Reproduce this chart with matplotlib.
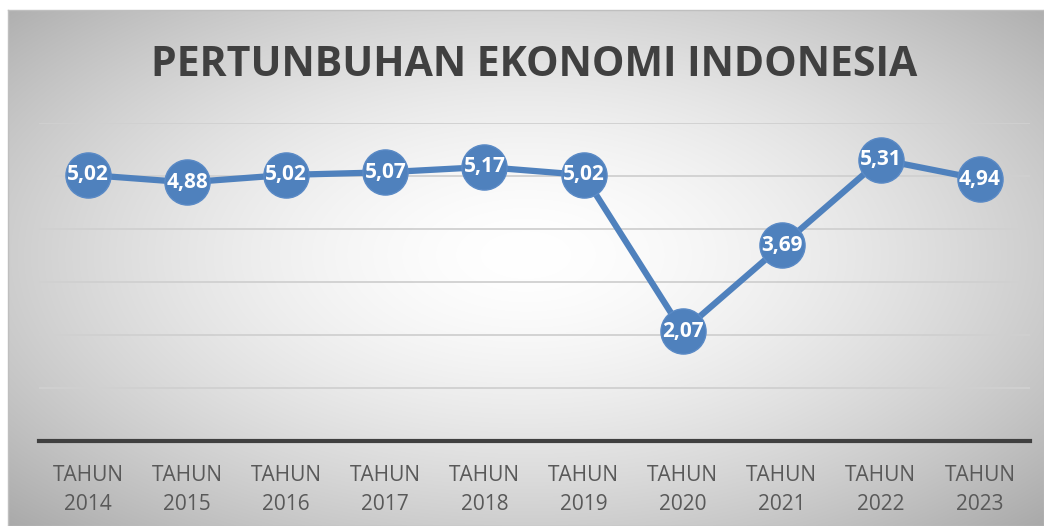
import matplotlib.pyplot as plt
import numpy as np

years = ["2014", "2015", "2016", "2017", "2018", "2019", "2020", "2021", "2022", "2023"]
growth = [5.02, 4.88, 5.02, 5.07, 5.17, 5.02, 2.07, 3.69, 5.31, 4.94]
tick_labels = ["TAHUN\n" + y for y in years]
value_labels = [f"{v:.2f}".replace(".", ",") for v in growth]

W, H = 1044, 526
fig = plt.figure(figsize=(W / 100, H / 100), dpi=100)
fig.patch.set_facecolor("white")

# chart area background: soft radial gradient
bg = fig.add_axes([8 / W, 0, 1 - 8 / W, (H - 10) / H])
yy, xx = np.mgrid[-1:1:300j, -1:1:600j]
r = np.sqrt((xx * 0.95) ** 2 + ((yy + 0.05) * 0.9) ** 2)
shade = 1.0 - 0.21 * np.clip(r, 0, 1.4) ** 1.6
bg.imshow(np.dstack([shade] * 3), aspect="auto", extent=[0, 1, 0, 1],
          interpolation="bilinear")
bg.set_xlim(0, 1)
bg.set_ylim(0, 1)
bg.set_xticks([])
bg.set_yticks([])
for s in bg.spines.values():
    s.set_color("#bfbfbf")
    s.set_linewidth(1)

ax = fig.add_axes([38.5 / W, (H - 441) / H, (1029.5 - 38.5) / W, (441 - 123) / H])
ax.set_facecolor("none")
x = np.arange(len(years))
ax.set_xlim(-0.5, len(years) - 0.5)
ax.set_ylim(0, 6)
ax.set_yticks(np.arange(0, 7, 1))
ax.yaxis.grid(True, color="#d0d0d0", linewidth=1.3)
ax.set_axisbelow(True)
ax.tick_params(axis="y", left=False, labelleft=False)
ax.tick_params(axis="x", bottom=False, pad=14)
for side in ["top", "right", "left"]:
    ax.spines[side].set_visible(False)
ax.spines["bottom"].set_color("#404040")
ax.spines["bottom"].set_linewidth(3)

ax.plot(x, growth, color="#4f81bd", linewidth=4.5, marker="o", markersize=32.5,
        markerfacecolor="#4f81bd", markeredgecolor="#5a8ac6", markeredgewidth=1,
        clip_on=False, zorder=3)
for xi, v, lab in zip(x, growth, value_labels):
    ax.text(xi, v, lab, ha="center", va="center", color="white",
            fontsize=15, fontweight="bold", family="Open Sans", zorder=4)

ax.set_xticks(x)
ax.set_xticklabels(tick_labels, fontsize=15, color="#595959", family="Open Sans",
                   linespacing=1.5)

fig.text(534 / W, (H - 65) / H, "PERTUNBUHAN EKONOMI INDONESIA", ha="center",
         va="center", fontsize=29.5, fontweight="bold", color="#404040",
         family="Open Sans")

fig.savefig("out.png", dpi=100)
